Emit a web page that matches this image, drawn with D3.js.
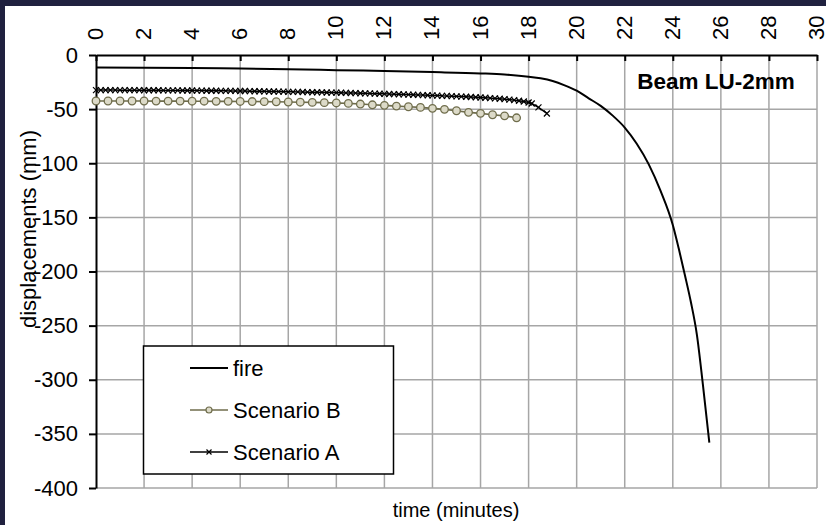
<!DOCTYPE html>
<html>
<head>
<meta charset="utf-8">
<script src="https://cdn.jsdelivr.net/npm/d3@7/dist/d3.min.js"></script>
<style>
  html, body { margin: 0; padding: 0; background: #20213f; }
  svg { display: block; font-family: "Liberation Sans", Arial, sans-serif; }
  .grid line { stroke: #a6a6a6; stroke-width: 1.5; }
</style>
</head>
<body>
<svg></svg>
<script>
//begin: data
var fireTime = [0, 2, 4, 6, 8, 10, 12, 14, 16, 17, 18, 18.5, 19, 19.5, 20, 20.5, 21, 21.5, 22, 22.5, 23, 23.5, 24, 24.25, 24.5, 24.75, 25, 25.25, 25.52];
var fireDisp = [-11.5, -11.7, -12, -12.5, -13.2, -14, -14.8, -15.8, -17, -18, -20, -21.5, -24, -28, -33, -40, -47, -56, -67, -82, -101, -126, -157, -179, -203, -228, -258, -304, -358];

var scenBTime = [0, 0.5, 1, 1.5, 2, 2.5, 3, 3.5, 4, 4.5, 5, 5.5, 6, 6.5, 7, 7.5, 8, 8.5, 9, 9.5, 10,
                 10.5, 11, 11.5, 12, 12.5, 13, 13.5, 14, 14.5, 15, 15.5, 16, 16.5, 17, 17.5];
var scenBDisp = [-42.5, -42.5, -42.5, -42.5, -42.5, -42.6, -42.6, -42.6, -42.7, -42.7, -42.8, -42.8, -42.9, -43, -43.1, -43.2, -43.4, -43.6, -43.8, -44, -44.3,
                 -44.7, -45.3, -46, -46.5, -47.2, -47.8, -48.4, -49.3, -50.2, -51.5, -53, -53.9, -55.2, -56.2, -58];

var scenATime = [0, 0.2, 0.4, 0.6, 0.8, 1, 1.2, 1.4, 1.6, 1.8, 2, 2.2, 2.4, 2.6, 2.8, 3, 3.2, 3.4, 3.6, 3.8,
                 4, 4.2, 4.4, 4.6, 4.8, 5, 5.2, 5.4, 5.6, 5.8, 6, 6.2, 6.4, 6.6, 6.8, 7, 7.2, 7.4, 7.6, 7.8,
                 8, 8.2, 8.4, 8.6, 8.8, 9, 9.2, 9.4, 9.6, 9.8, 10, 10.2, 10.4, 10.6, 10.8, 11, 11.2, 11.4, 11.6, 11.8,
                 12, 12.2, 12.4, 12.6, 12.8, 13, 13.2, 13.4, 13.6, 13.8, 14, 14.2, 14.4, 14.6, 14.8, 15, 15.2, 15.4, 15.6, 15.8,
                 16, 16.2, 16.4, 16.6, 16.8, 17, 17.2, 17.4, 17.6, 17.8, 18, 18.13, 18.41, 18.76];
var scenADisp = [-32.4, -32.4, -32.4, -32.4, -32.4, -32.5, -32.5, -32.5, -32.5, -32.5, -32.6, -32.6, -32.6, -32.6, -32.7, -32.7, -32.7, -32.7, -32.8, -32.8,
                 -32.8, -32.9, -32.9, -33, -33, -33, -33.1, -33.1, -33.2, -33.2, -33.3, -33.3, -33.4, -33.5, -33.5, -33.6, -33.7, -33.7, -33.8, -33.9,
                 -34, -34, -34.1, -34.2, -34.3, -34.4, -34.4, -34.5, -34.6, -34.7, -34.8, -34.9, -35, -35.1, -35.2, -35.3, -35.4, -35.5, -35.7, -35.8,
                 -35.9, -36, -36.2, -36.3, -36.4, -36.6, -36.7, -36.9, -37, -37.2, -37.3, -37.5, -37.7, -37.8, -38, -38.2, -38.4, -38.6, -38.8, -39,
                 -39.3, -39.5, -39.8, -40.1, -40.4, -40.8, -41.2, -41.7, -42.3, -43, -43.9, -44.8, -48.4, -54];

var xTicks = [0, 2, 4, 6, 8, 10, 12, 14, 16, 18, 20, 22, 24, 26, 28, 30];
var yTicks = [0, -50, -100, -150, -200, -250, -300, -350, -400];
var legendNames = ["fire", "Scenario B", "Scenario A"];
//end: data

//begin: layout conf.
var svgWidth = 826,
    svgHeight = 525,
    plot = {left: 96, right: 817, top: 55, bottom: 488},
    fontSize = 22,
    olive = "#6f6d4c";
//end: layout conf.

var x = d3.scaleLinear().domain([0, 30]).range([plot.left, plot.right]);
var y = d3.scaleLinear().domain([0, -400]).range([plot.top, plot.bottom]);

var svg = d3.select("svg")
    .attr("width", svgWidth)
    .attr("height", svgHeight);

// white panel (dark frame shows on top and left)
svg.append("rect")
    .attr("x", 5).attr("y", 6)
    .attr("width", svgWidth - 5).attr("height", svgHeight - 6)
    .attr("fill", "#ffffff");

// grid
var grid = svg.append("g").classed("grid", true);
grid.selectAll(".vg")
    .data(xTicks.filter(function(d){ return d > 0; }))
    .enter().append("line")
    .attr("x1", function(d){ return x(d); })
    .attr("x2", function(d){ return x(d); })
    .attr("y1", plot.top).attr("y2", plot.bottom);
grid.selectAll(".hg")
    .data(yTicks.filter(function(d){ return d < 0; }))
    .enter().append("line")
    .attr("y1", function(d){ return y(d); })
    .attr("y2", function(d){ return y(d); })
    .attr("x1", plot.left).attr("x2", plot.right);

// top axis (ticks pointing into plot, labels rotated)
var topAxis = svg.append("g")
    .attr("transform", "translate(0," + plot.top + ")")
    .call(d3.axisTop(x).tickValues(xTicks).tickSizeInner(-6).tickSizeOuter(0).tickFormat(function(d){ return String(d); }));
topAxis.select(".domain").attr("stroke", "#000").attr("stroke-width", 2);
topAxis.selectAll(".tick line").attr("stroke", "#000").attr("stroke-width", 2);
topAxis.selectAll(".tick text")
    .attr("y", 0).attr("dy", null)
    .attr("transform", "translate(-1,-15) rotate(-90)")
    .attr("text-anchor", "start")
    .attr("dominant-baseline", "central")
    .attr("fill", "#000")
    .style("font-family", "Liberation Sans, Arial, sans-serif")
    .style("font-size", fontSize + "px");

// left axis
var leftAxis = svg.append("g")
    .attr("transform", "translate(" + plot.left + ",0)")
    .call(d3.axisLeft(y).tickValues(yTicks).tickSizeInner(7).tickSizeOuter(0).tickPadding(11)
      .tickFormat(function(d){ return String(d); }));
leftAxis.select(".domain").attr("stroke", "#000").attr("stroke-width", 2);
leftAxis.selectAll(".tick line").attr("stroke", "#000").attr("stroke-width", 2);
leftAxis.selectAll(".tick text")
    .attr("fill", "#000")
    .style("font-family", "Liberation Sans, Arial, sans-serif")
    .style("font-size", fontSize + "px");

// axis titles
svg.append("text")
    .attr("transform", "translate(36,229) rotate(-90)")
    .attr("text-anchor", "middle")
    .style("font-size", "22px")
    .text("displacements (mm)");
svg.append("text")
    .attr("x", 456).attr("y", 517)
    .attr("text-anchor", "middle")
    .style("font-size", "20px")
    .text("time (minutes)");

// chart title
svg.append("text")
    .attr("x", 716).attr("y", 89)
    .attr("text-anchor", "middle")
    .style("font-size", "22.5px")
    .style("font-weight", "bold")
    .text("Beam LU-2mm");

// series
function zip(ts, vs) {
  return ts.map(function(t, i){ return {t: t, v: vs[i]}; });
}
var fireData = zip(fireTime, fireDisp),
    bData = zip(scenBTime, scenBDisp),
    aData = zip(scenATime, scenADisp);

var smooth = d3.line()
    .x(function(d){ return x(d.t); })
    .y(function(d){ return y(d.v); })
    .curve(d3.curveMonotoneX);
var straight = d3.line()
    .x(function(d){ return x(d.t); })
    .y(function(d){ return y(d.v); });

svg.append("path")
    .attr("d", smooth(fireData))
    .attr("fill", "none").attr("stroke", "#000").attr("stroke-width", 2);

svg.append("path")
    .attr("d", straight(bData))
    .attr("fill", "none").attr("stroke", olive).attr("stroke-width", 1.6);
svg.append("g").selectAll("circle")
    .data(bData).enter().append("circle")
    .attr("cx", function(d){ return x(d.t); })
    .attr("cy", function(d){ return y(d.v); })
    .attr("r", 3.8)
    .attr("fill", "#dcdac8").attr("stroke", olive).attr("stroke-width", 1.3);

svg.append("path")
    .attr("d", straight(aData))
    .attr("fill", "none").attr("stroke", "#000").attr("stroke-width", 1.5);
function crossPath(cx, cy, s) {
  return "M" + (cx - s) + "," + (cy - s) + "L" + (cx + s) + "," + (cy + s) +
         "M" + (cx - s) + "," + (cy + s) + "L" + (cx + s) + "," + (cy - s);
}
svg.append("g").selectAll("path")
    .data(aData).enter().append("path")
    .attr("d", function(d){ return crossPath(x(d.t), y(d.v), 3); })
    .attr("fill", "none").attr("stroke", "#000").attr("stroke-width", 1.2);

// legend
var legend = svg.append("g");
legend.append("rect")
    .attr("x", 143.5).attr("y", 346)
    .attr("width", 250).attr("height", 128)
    .attr("fill", "#fff").attr("stroke", "#000").attr("stroke-width", 1.5);
var rows = [368, 410, 452];
var rowColors = ["#000", olive, "#000"];
legend.selectAll(".lline")
    .data(legendNames).enter().append("line")
    .attr("x1", 190).attr("x2", 228)
    .attr("y1", function(d, i){ return rows[i]; })
    .attr("y2", function(d, i){ return rows[i]; })
    .attr("stroke", function(d, i){ return rowColors[i]; })
    .attr("stroke-width", function(d, i){ return i == 0 ? 2 : 1.5; });
legend.append("circle")
    .attr("cx", 209).attr("cy", rows[1]).attr("r", 3)
    .attr("fill", "#dcdac8").attr("stroke", olive).attr("stroke-width", 1.2);
legend.append("path")
    .attr("d", crossPath(209, rows[2], 2.5))
    .attr("stroke", "#000").attr("stroke-width", 1.2);
legend.selectAll(".ltext")
    .data(legendNames).enter().append("text")
    .attr("x", 233)
    .attr("y", function(d, i){ return rows[i]; })
    .attr("dy", "0.36em")
    .style("font-size", fontSize + "px")
    .text(function(d){ return d; });
</script>
</body>
</html>
